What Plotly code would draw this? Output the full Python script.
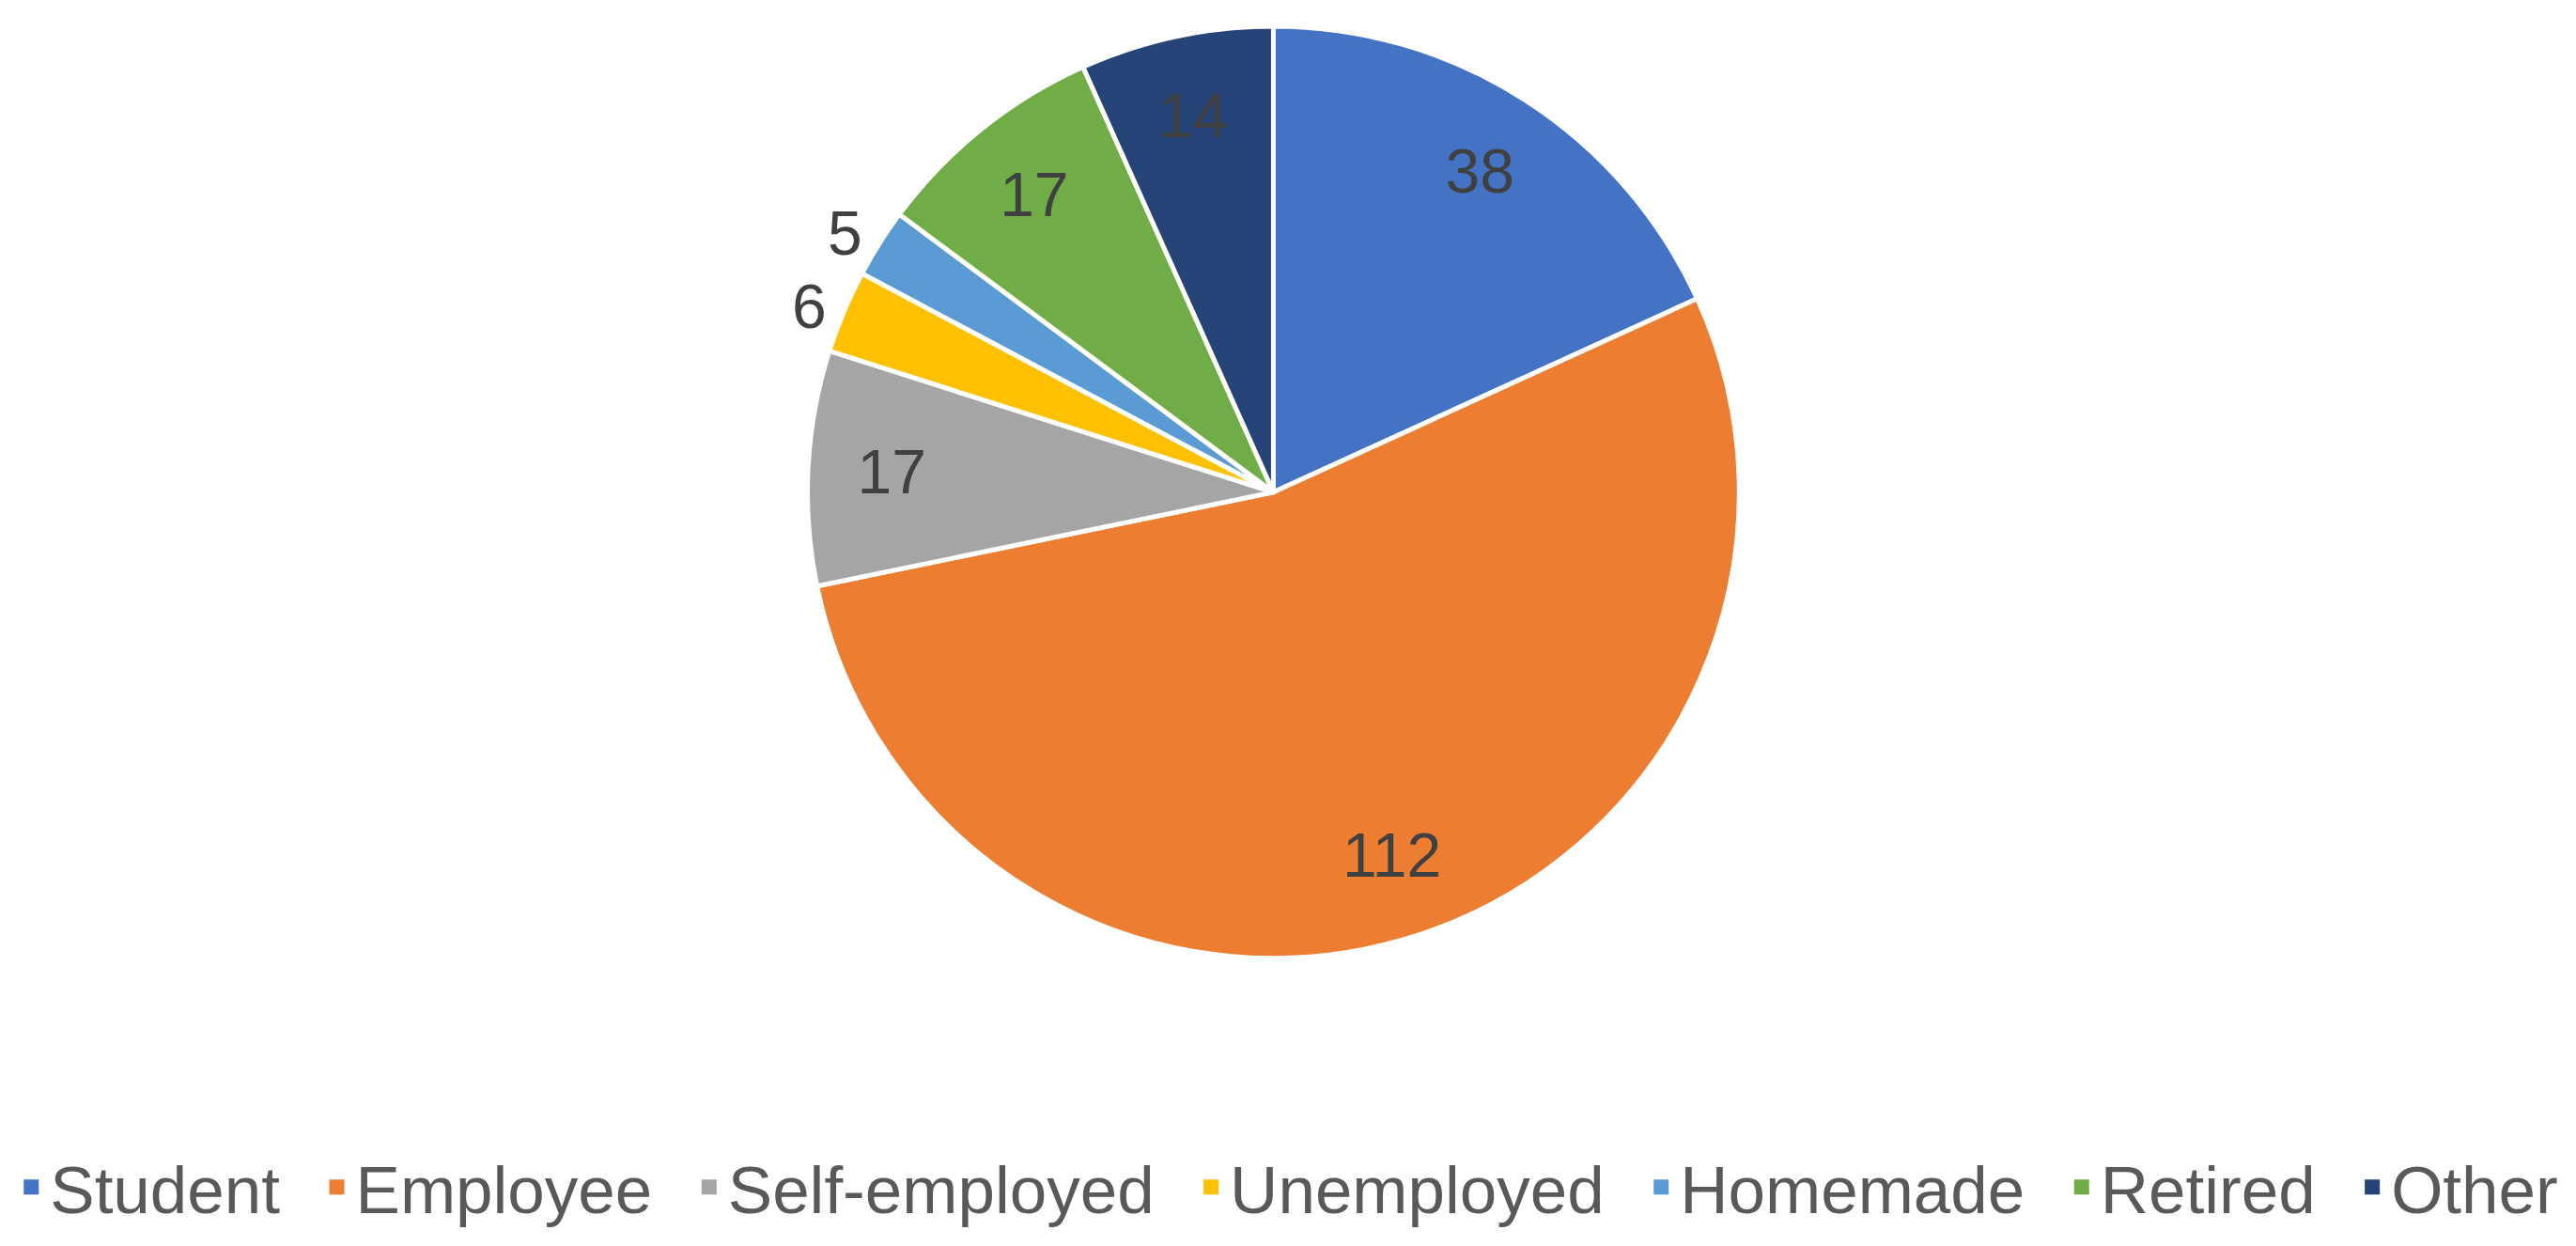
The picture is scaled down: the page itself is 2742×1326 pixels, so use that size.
import plotly.graph_objects as go

# occupation of respondents
categories = ["Student", "Employee", "Self-employed", "Unemployed",
              "Homemade", "Retired", "Other"]
counts = [38, 112, 17, 6, 5, 17, 14]
colors = ["#4472C4", "#ED7D31", "#A5A5A5", "#FFC000",
          "#5B9BD5", "#70AD47", "#264478"]
text_positions = ["inside", "inside", "inside", "outside",
                  "outside", "inside", "inside"]

FONT = "Liberation Sans, Arial, sans-serif"
DOMAIN = dict(x=[0.1914, 0.7914], y=[0.237, 0.985])

fig = go.Figure()

# the coloured slices
fig.add_trace(go.Pie(
    labels=categories,
    values=counts,
    sort=False,
    direction="clockwise",
    rotation=0,
    marker=dict(colors=colors, line=dict(color="white", width=5)),
    textinfo="none",
    domain=DOMAIN,
    showlegend=False,
    hoverinfo="label+value",
))

# transparent ring on top, only to push the value labels out towards the rim
fig.add_trace(go.Pie(
    labels=categories,
    values=counts,
    sort=False,
    direction="clockwise",
    rotation=0,
    hole=0.64,
    marker=dict(colors=["rgba(0,0,0,0)"] * len(categories),
                line=dict(width=0)),
    textinfo="value",
    textposition=text_positions,
    insidetextorientation="horizontal",
    textfont=dict(family=FONT, size=66, color="#404040"),
    domain=DOMAIN,
    showlegend=False,
    hoverinfo="skip",
))

# legend-only entries so the square keys can be as big as in the original;
# an en space after each name gives the wider gap between entries
for i, (name, color) in enumerate(zip(categories, colors)):
    pad = "\u2002" if i < len(categories) - 1 else ""
    fig.add_trace(go.Scatter(
        x=[None], y=[None], mode="markers", name=name + pad,
        marker=dict(symbol="square", size=16, color=color),
    ))

fig.update_layout(
    width=2742,
    height=1326,
    margin=dict(l=0, r=0, t=0, b=0),
    paper_bgcolor="white",
    plot_bgcolor="white",
    font=dict(family=FONT, color="#595959"),
    xaxis=dict(visible=False),
    yaxis=dict(visible=False),
    legend=dict(
        orientation="h",
        x=0.497, xanchor="center",
        y=0.053, yanchor="middle",
        font=dict(family=FONT, size=71, color="#595959"),
        itemsizing="trace",
        itemwidth=30,
    ),
)

fig.write_html("out.html")
